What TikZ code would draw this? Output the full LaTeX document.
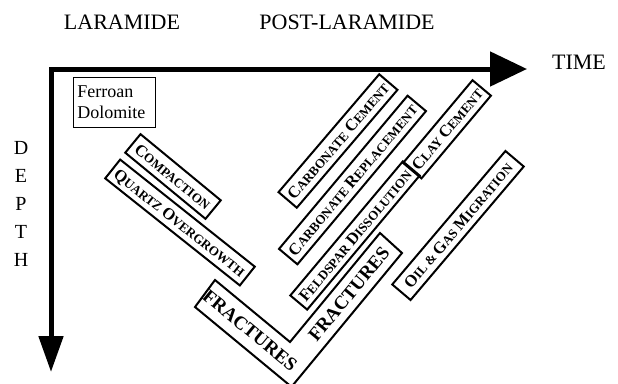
\documentclass[tikz,border=0pt]{standalone}
\usepackage{fontspec}
\setmainfont{Liberation Serif}
\usetikzlibrary{arrows.meta}

% Kapitaelchen von Hand: grosser Anfangsbuchstabe, Rest kleiner
\newcommand{\smcap}[2]{{\fontsize{16.5}{16.5}\selectfont #1}{\fontsize{13}{13}\selectfont #2}}

\begin{document}
\begin{tikzpicture}[x=1pt, y=-1pt,
    stage/.style={draw, line width=2pt, inner sep=0pt, minimum height=24pt,
      font=\bfseries\fontsize{13}{13}\selectfont, text height=11.5pt, text depth=0pt},
    era/.style={font=\fontsize{22}{22}\selectfont},
    axis/.style={line width=5pt}]
  \useasboundingbox (0,0) rectangle (618,383);
  \clip (0,0) rectangle (618,383);

  % Achsen
  \coordinate (origin) at (51,69);
  \coordinate (timeend) at (527,69);
  \coordinate (depthend) at (51,372);
  \draw[axis, {Triangle[length=36pt 0 0,width=24pt 0 0]}-{Triangle[length=37pt 0 0,width=34pt 0 0]}]
    (depthend) -- (origin) -- (timeend);

  % Beschriftung
  \node[era] (lara) at (122,22) {LARAMIDE};
  \node[era] (post) at (347,22) {POST-LARAMIDE};
  \node[era] (time) at (579,62) {TIME};
  \foreach \pos/\letter in {148/D,176/E,204/P,232/T,260/H} {
    \node[font=\fontsize{20}{20}\selectfont] (d\letter) at (21,\pos) {\letter};
  }

  \node[draw, line width=0.8pt, align=left, anchor=north west, inner xsep=4pt,
    text width=74pt, minimum height=50pt, font=\fontsize{18}{21}\selectfont]
    (ferroan) at (73,77) {Ferroan\\Dolomite};

  % Prozesse (Laramide)
  \node[stage, minimum width=104pt, rotate=-39.5] (comp) at (173,176.5) {\smcap{C}{OMPACTION}};
  \node[stage, minimum width=172pt, rotate=-38.5] (quartz) at (180,222.5) {\smcap{Q}{UARTZ} \smcap{O}{VERGROWTH}};

  % Prozesse (Post-Laramide)
  \node[stage, minimum width=155pt, rotate=49.5] (carbcem) at (338,141) {\smcap{C}{ARBONATE} \smcap{C}{EMENT}};
  \node[stage, minimum width=200pt, rotate=50] (carbrep) at (352.5,180) {\smcap{C}{ARBONATE} \smcap{R}{EPLACEMENT}};
  \node[stage, minimum width=175pt, minimum height=22pt, rotate=50] (feld) at (355,235.5) {\smcap{F}{ELDSPAR} \smcap{D}{ISSOLUTION}};
  \node[stage, minimum width=108pt, rotate=50] (clay) at (447,129.3) {\smcap{C}{LAY} \smcap{C}{EMENT}};
  \node[stage, minimum width=175pt, rotate=49.7] (oil) at (458,225.5) {\smcap{O}{IL} \& \smcap{G}{AS} \smcap{M}{IGRATION}};

  % Bruchbildung (V-Form)
  \coordinate (fa) at (195,307);
  \coordinate (fb) at (215,280);
  \coordinate (fc) at (290,342);
  \coordinate (fd) at (380,233);
  \coordinate (fe) at (402,253);
  \coordinate (ff) at (291.5,386.8);
  \draw[line width=2pt] (fa) -- (fb) -- (fc) -- (fd) -- (fe) -- (ff) -- cycle;
  \node[font=\bfseries\fontsize{19}{19}\selectfont, rotate=-39.6] (frac1) at (250,330.5) {FRACTURES};
  \node[font=\bfseries\fontsize{19}{19}\selectfont, rotate=50.5] (frac2) at (349,294) {FRACTURES};
\end{tikzpicture}
\end{document}
